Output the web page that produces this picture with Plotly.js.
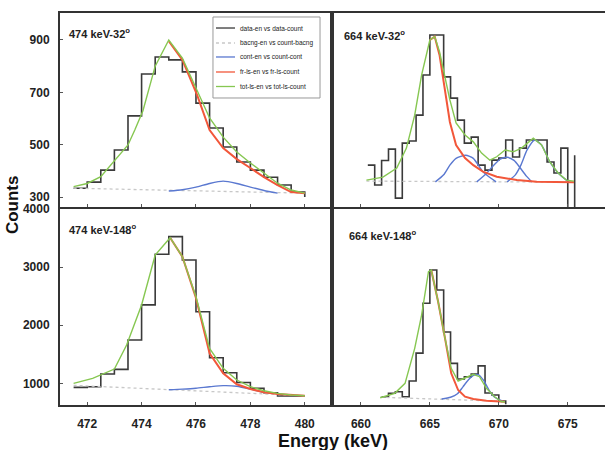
<!DOCTYPE html>
<html>
<head>
<meta charset="utf-8">
<script src="https://cdn.plot.ly/plotly-3.0.1.min.js"></script>
<style>
  html, body { margin: 0; padding: 0; background: #fff; }
  #fitPlot { width: 605px; height: 450px; }
</style>
</head>
<body>
<div id="fitPlot"></div>
<script>
// ---- 474 keV, 32 deg ----
let e474_32_edges = [471.5, 472, 472.5, 473, 473.5, 474, 474.5, 475, 475.5, 476, 476.5, 477, 477.5, 478, 478.5, 479, 479.5, 480];
let e474_32_counts = [334, 357, 403, 480, 610, 770, 835, 824, 778, 659, 564, 491, 434, 403, 376, 346, 319, 300];
let e474_32_bg_x = [471.5, 480];
let e474_32_bg_y = [334, 315];
let e474_32_cont_x = [475.0, 475.5, 476.0, 476.5, 477.0, 477.5, 478.0, 478.5, 479.0];
let e474_32_cont_y = [323, 328, 338, 352, 361, 352, 338, 325, 315];
let e474_32_frls_x = [475.0, 475.5, 476.04, 476.5, 477.0, 477.5, 478.0, 478.5, 479.0, 479.5, 480.0];
let e474_32_frls_y = [895, 824, 690, 556, 487, 445, 411, 376, 346, 319, 315];
let e474_32_tot_x = [471.5, 472, 472.5, 473, 473.5, 473.75, 474.05, 474.5, 475, 475.5, 476.04, 476.5, 477, 477.5, 478, 478.5, 479, 479.5, 480];
let e474_32_tot_y = [340, 352, 378, 439, 499, 556, 630, 800, 900, 831, 709, 602, 529, 472, 430, 392, 353, 327, 315];

// ---- 664 keV, 32 deg ----
let e664_32_edges = [660.5, 661, 661.5, 662, 662.5, 663, 663.5, 664, 664.5, 665, 665.5, 666, 666.5, 667, 667.5, 668, 668.5, 669, 669.5, 670, 670.5, 671, 671.5, 672, 672.5, 673, 673.5, 674, 674.5, 675, 675.5];
let e664_32_counts = [422, 346, 440, 483, 296, 506, 514, 613, 766, 919, 919, 759, 678, 594, 506, 529, 422, 403, 441, 449, 518, 453, 487, 518, 518, 518, 434, 392, 487, 250, 460];
let e664_32_bg_x = [660.4, 675.45];
let e664_32_bg_y = [361, 357];
let e664_32_cont_x = [665.4, 666.0, 666.45, 666.9, 667.6, 668.15, 668.8, 669.1, 669.8, null,
  668.4, 669.0, 669.6, 670.1, 670.6, 671.1, 671.5, 672.0, 672.4, null,
  670.6, 671.2, 671.6, 672.05, 672.6, 673.1, 673.7, 674.3, 674.9, 675.1];
let e664_32_cont_y = [358, 385, 422, 448, 460, 448, 400, 385, 358, null,
  358, 385, 420, 445, 452, 440, 415, 380, 358, null,
  358, 385, 422, 480, 518, 499, 434, 392, 365, 358];
let e664_32_frls_x = [665.0, 665.35, 665.7, 666.1, 666.45, 666.9, 667.55, 668.15, 668.85, 669.85, 671.3, 672.75, 675.45];
let e664_32_frls_y = [900, 913, 843, 701, 587, 499, 449, 422, 397, 378, 365, 359, 357];
let e664_32_tot_x = [660.4, 661.6, 662.6, 663.3, 663.9, 664.4, 665.0, 665.35, 665.7, 666.1, 666.45, 666.9, 667.55, 668.15, 668.75, 669.35, 669.85, 670.45, 671.05, 671.65, 672.5, 673.1, 673.7, 674.3, 674.9, 675.45];
let e664_32_tot_y = [365, 376, 411, 487, 613, 766, 900, 913, 855, 755, 671, 583, 537, 511, 468, 441, 454, 480, 473, 487, 525, 499, 434, 392, 365, 361];

// ---- 474 keV, 148 deg ----
let e474_148_edges = [471.5, 472, 472.5, 473, 473.5, 474, 474.5, 475, 475.5, 476, 476.5, 477, 477.5, 478, 478.5, 479, 479.5, 480];
let e474_148_counts = [931, 942, 1160, 1240, 1745, 2350, 3220, 3525, 3122, 2232, 1441, 1183, 1015, 914, 838, 781, 781, 781];
let e474_148_bg_x = [471.5, 480];
let e474_148_bg_y = [965, 786];
let e474_148_cont_x = [475.0, 475.5, 476.0, 476.5, 477.0, 477.5, 478.0, 478.5];
let e474_148_cont_y = [890, 900, 915, 940, 960, 950, 900, 840];
let e474_148_frls_x = [475.05, 475.5, 476.0, 476.5, 477.0, 477.5, 478.0, 478.5, 479.0, 479.5, 480.0];
let e474_148_frls_y = [3506, 3179, 2470, 1516, 1172, 983, 902, 845, 816, 799, 786];
let e474_148_tot_x = [471.5, 472.2, 473.0, 473.45, 474.0, 474.5, 475.05, 475.5, 476.0, 476.5, 477.0, 477.5, 478.0, 478.5, 479.0, 479.5, 480.0];
let e474_148_tot_y = [1000, 1086, 1246, 1659, 2347, 3208, 3506, 3179, 2490, 1602, 1258, 1057, 942, 873, 828, 799, 786];

// ---- 664 keV, 148 deg ----
let e664_148_edges = [661.5, 662, 662.5, 663, 663.5, 664, 664.5, 665, 665.5, 666, 666.5, 667, 667.5, 668, 668.5, 669, 669.5, 670, 670.5];
let e664_148_counts = [770, 828, 856, 770, 1040, 1520, 2377, 2950, 2606, 1883, 1344, 1074, 1114, 1160, 1300, 833, 799, 695, 640];
let e664_148_bg_x = [661.4, 670.45];
let e664_148_bg_y = [760, 690];
let e664_148_cont_x = [665.85, 666.5, 667.0, 667.4, 667.8, 668.2, 668.5, 668.9, 669.3, 669.7, 670.2];
let e664_148_cont_y = [730, 760, 820, 940, 1060, 1140, 1150, 1050, 880, 760, 700];
let e664_148_frls_x = [665.1, 665.6, 666.1, 666.55, 667.05, 667.55, 668.15, 669.1, 670.45];
let e664_148_frls_y = [2950, 2404, 1774, 1172, 885, 770, 730, 700, 683];
let e664_148_tot_x = [661.4, 662.45, 663.2, 663.9, 664.4, 664.9, 665.1, 665.6, 666.1, 666.55, 667.05, 667.55, 668.15, 668.6, 669.1, 669.7, 670.2, 670.45];
let e664_148_tot_y = [752, 828, 1000, 1602, 2175, 2920, 2950, 2404, 1774, 1258, 1040, 1086, 1155, 1114, 914, 770, 683, 683];

let legendNames = [
  "data-en vs data-count",
  "bacng-en vs count-bacng",
  "cont-en vs count-cont",
  "fr-ls-en vs fr-ls-count",
  "tot-ls-en vs tot-ls-count",
];

var colors = {
  data: "#3a3a3a",
  bg: "#c8c8c8",
  cont: "#5a78d0",
  frls: "#f2573a",
  tot: "#86c751",
};

var styles = [
  { color: colors.data, width: 1.6 },
  { color: colors.bg, width: 1.3, dash: "dot" },
  { color: colors.cont, width: 1.4 },
  { color: colors.frls, width: 2 },
  { color: colors.tot, width: 1.4 },
];

// one panel = 5 traces on a given pair of axes
var panelTraces = function (p, xa, ya) {
  return [
    { x: p.edges, y: p.counts, line: Object.assign({ shape: "hv" }, styles[0]), name: legendNames[0] },
    { x: p.bgx, y: p.bgy, line: styles[1], name: legendNames[1] },
    { x: p.cx, y: p.cy, line: Object.assign({ shape: "spline", smoothing: 0.6 }, styles[2]), connectgaps: false, name: legendNames[2] },
    { x: p.fx, y: p.fy, line: styles[3], name: legendNames[3] },
    { x: p.tx, y: p.ty, line: styles[4], name: legendNames[4] },
  ].map(function (t) {
    return Object.assign(t, { xaxis: xa, yaxis: ya, type: "scatter", mode: "lines", showlegend: false });
  });
};

// small boxed legend in the top-left panel (paper coords of the plot area)
var legendItems = function () {
  let font = { family: "Liberation Sans, Arial, sans-serif", size: 6.5, color: "#222" };
  let shapes = [{ type: "rect", xref: "paper", yref: "paper", x0: 0.2807, x1: 0.4771, y0: 0.7832, y1: 0.9898,
    line: { color: "#999", width: 1 }, fillcolor: "#fff", layer: "above" }];
  let annots = [];
  let rowY = [0.9617, 0.9235, 0.8878, 0.8495, 0.8125];
  for (let i = 0; i < legendNames.length; i++) {
    shapes.push({ type: "line", xref: "paper", yref: "paper", x0: 0.2862, x1: 0.3211, y0: rowY[i], y1: rowY[i],
      line: Object.assign({}, styles[i], { width: Math.min(styles[i].width, 1.3) }), layer: "above" });
    annots.push({ text: legendNames[i], xref: "paper", yref: "paper", x: 0.3266, y: rowY[i],
      xanchor: "left", yanchor: "middle", showarrow: false, font: font });
  }
  return { shapes: shapes, annots: annots };
};

var cb_fitPlot = function () {
  let data = [].concat(
    panelTraces({ edges: e474_32_edges, counts: e474_32_counts, bgx: e474_32_bg_x, bgy: e474_32_bg_y,
      cx: e474_32_cont_x, cy: e474_32_cont_y, fx: e474_32_frls_x, fy: e474_32_frls_y,
      tx: e474_32_tot_x, ty: e474_32_tot_y }, "x3", "y3"),
    panelTraces({ edges: e664_32_edges, counts: e664_32_counts, bgx: e664_32_bg_x, bgy: e664_32_bg_y,
      cx: e664_32_cont_x, cy: e664_32_cont_y, fx: e664_32_frls_x, fy: e664_32_frls_y,
      tx: e664_32_tot_x, ty: e664_32_tot_y }, "x4", "y4"),
    panelTraces({ edges: e474_148_edges, counts: e474_148_counts, bgx: e474_148_bg_x, bgy: e474_148_bg_y,
      cx: e474_148_cont_x, cy: e474_148_cont_y, fx: e474_148_frls_x, fy: e474_148_frls_y,
      tx: e474_148_tot_x, ty: e474_148_tot_y }, "x", "y"),
    panelTraces({ edges: e664_148_edges, counts: e664_148_counts, bgx: e664_148_bg_x, bgy: e664_148_bg_y,
      cx: e664_148_cont_x, cy: e664_148_cont_y, fx: e664_148_frls_x, fy: e664_148_frls_y,
      tx: e664_148_tot_x, ty: e664_148_tot_y }, "x2", "y2")
  );

  let tickFont = { family: "Liberation Sans, Arial, sans-serif", size: 12, color: "#222", weight: "bold" };
  let frame = { showline: true, linecolor: "#333", linewidth: 2, showgrid: false, zeroline: false,
    ticks: "inside", ticklen: 3, tickcolor: "#555", tickfont: tickFont };
  let labFont = { family: "Liberation Sans, Arial, sans-serif", size: 11, color: "#222", weight: "bold" };
  let titleFont = { family: "Liberation Sans, Arial, sans-serif", size: 18, color: "#111", weight: "bold" };
  let leg = legendItems();

  let layout = {
    width: 605,
    height: 450,
    margin: { l: 60, r: 0, t: 13, b: 45, pad: 0 },
    paper_bgcolor: "#fff",
    plot_bgcolor: "#fff",
    showlegend: false,
    // bottom row
    xaxis: Object.assign({}, frame, { domain: [0, 0.499], anchor: "y", range: [471, 481],
      tickvals: [472, 474, 476, 478, 480], mirror: true, ticklabelstandoff: 7 }),
    yaxis: Object.assign({}, frame, { domain: [0, 0.5], anchor: "x", range: [627, 4000],
      tickvals: [1000, 2000, 3000, 4000], mirror: true, ticklabelstandoff: 6 }),
    xaxis2: Object.assign({}, frame, { domain: [0.499, 1], anchor: "y2", range: [657.9, 677.7],
      tickvals: [660, 665, 670, 675], mirror: true, ticklabelstandoff: 7 }),
    yaxis2: Object.assign({}, frame, { domain: [0, 0.5], anchor: "x2", range: [627, 4000],
      showticklabels: false, ticks: "", mirror: false }),
    // top row
    xaxis3: Object.assign({}, frame, { domain: [0, 0.499], anchor: "y3", range: [471, 481],
      tickvals: [472, 474, 476, 478, 480], showticklabels: false, mirror: true }),
    yaxis3: Object.assign({}, frame, { domain: [0.505, 1], anchor: "x3", range: [262, 1003],
      tickvals: [300, 500, 700, 900], mirror: true, ticklabelstandoff: 6 }),
    xaxis4: Object.assign({}, frame, { domain: [0.499, 1], anchor: "y4", range: [657.9, 677.7],
      tickvals: [660, 665, 670, 675], showticklabels: false, mirror: true }),
    yaxis4: Object.assign({}, frame, { domain: [0.505, 1], anchor: "x4", range: [262, 1003],
      showticklabels: false, ticks: "", mirror: false }),
    shapes: leg.shapes,
    annotations: [
      { text: "Counts", xref: "paper", yref: "paper", x: -0.088, y: 0.51, textangle: -90,
        xanchor: "center", yanchor: "middle", showarrow: false, font: Object.assign({}, titleFont, { size: 17 }) },
      { text: "Energy (keV)", xref: "paper", yref: "paper", x: 0.501, y: -0.092,
        xanchor: "center", yanchor: "middle", showarrow: false, font: titleFont },
      { text: "474 keV-32<sup>o</sup>", xref: "paper", yref: "paper", x: 0.0128, y: 0.949,
        xanchor: "left", yanchor: "middle", showarrow: false, font: labFont },
      { text: "664 keV-32<sup>o</sup>", xref: "paper", yref: "paper", x: 0.517, y: 0.944,
        xanchor: "left", yanchor: "middle", showarrow: false, font: labFont },
      { text: "474 keV-148<sup>o</sup>", xref: "paper", yref: "paper", x: 0.0128, y: 0.449,
        xanchor: "left", yanchor: "middle", showarrow: false, font: labFont },
      { text: "664 keV-148<sup>o</sup>", xref: "paper", yref: "paper", x: 0.527, y: 0.434,
        xanchor: "left", yanchor: "middle", showarrow: false, font: labFont },
    ].concat(leg.annots),
  };

  let config = { responsive: false, displayModeBar: false, displaylogo: false, staticPlot: true };

  Plotly.newPlot("fitPlot", data, layout, config);
};

if (document.readyState === "complete" || document.readyState === "interactive") {
  cb_fitPlot();
} else {
  document.addEventListener("DOMContentLoaded", cb_fitPlot);
}
</script>
</body>
</html>
